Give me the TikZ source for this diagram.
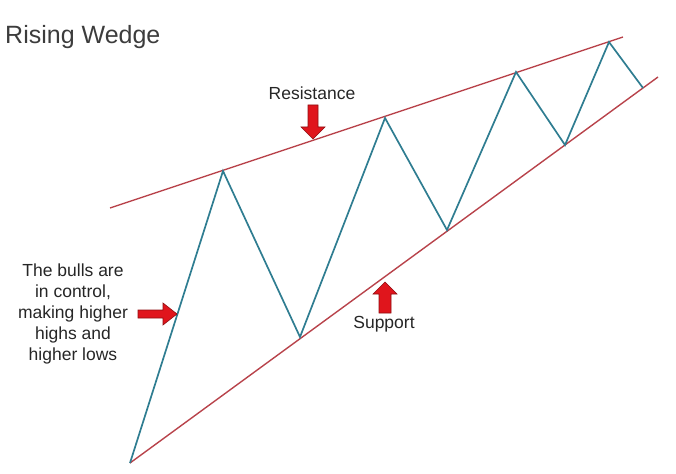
\documentclass[tikz,border=0pt]{standalone}
\usepackage{fontspec}
\setmainfont{Liberation Sans}
\definecolor{wedgered}{HTML}{B8434B}
\definecolor{zigteal}{HTML}{2F7D91}
\definecolor{arrowred}{HTML}{E0151C}
\definecolor{arrowedge}{HTML}{8E0E12}
\definecolor{txt}{HTML}{262626}
\begin{document}
\begin{tikzpicture}[x=1pt,y=-1pt,
  wedgeline/.style={draw=wedgered,line width=1.4pt},
  zigline/.style={draw=zigteal,line width=1.7pt,line join=miter},
  redarrow/.style={fill=arrowred,draw=arrowedge,line width=0.6pt,line join=miter},
  label/.style={text=txt,font=\fontsize{17.5}{21}\selectfont,align=center,inner sep=0pt}]
\path[use as bounding box] (0,0) rectangle (676,473);
% zigzag points
\coordinate (s) at (130,463);
\coordinate (p1) at (223,171);
\coordinate (t1) at (300,337);
\coordinate (p2) at (385,118);
\coordinate (t2) at (447,230);
\coordinate (p3) at (516,72);
\coordinate (t3) at (565,145);
\coordinate (p4) at (609,42);
\coordinate (e) at (643,88);
% wedge line ends
\coordinate (rA) at (110,208);
\coordinate (rB) at (623,37);
\coordinate (sB) at (658,77);
\draw[wedgeline] (rA) -- (rB);
\draw[wedgeline] (s) -- (sB);
\draw[zigline] (s) -- (p1) -- (t1) -- (p2) -- (t2) -- (p3) -- (t3) -- (p4) -- (e);
% title
\node[anchor=west,text=txt!90!white,font=\fontsize{25}{30}\selectfont,inner sep=0pt] (title) at (5,37) {Rising Wedge};
% labels
\node[label] (res) at (312,93) {Resistance};
\node[label] (sup) at (384,324) {Support};
\node[label] (bulls) at (73,314) {The bulls are\\in control,\\making higher\\highs and\\higher lows};
% arrows
\coordinate (ra) at (313,139);
\draw[redarrow] (ra) ++(-5,-34) -- ++(10,0) -- ++(0,22) -- ++(7,0) -- (ra) -- ++(-12,-12) -- ++(7,0) -- cycle;
\coordinate (ba) at (177,314);
\draw[redarrow] (ba) ++(-39,-4) -- ++(25,0) -- ++(0,-7) -- (ba) -- ++(-14,11) -- ++(0,-7) -- ++(-25,0) -- cycle;
\coordinate (sa) at (385,282);
\draw[redarrow] (sa) ++(-6,31) -- ++(12,0) -- ++(0,-19) -- ++(6,0) -- (sa) -- ++(-12,12) -- ++(6,0) -- cycle;
\end{tikzpicture}
\end{document}
